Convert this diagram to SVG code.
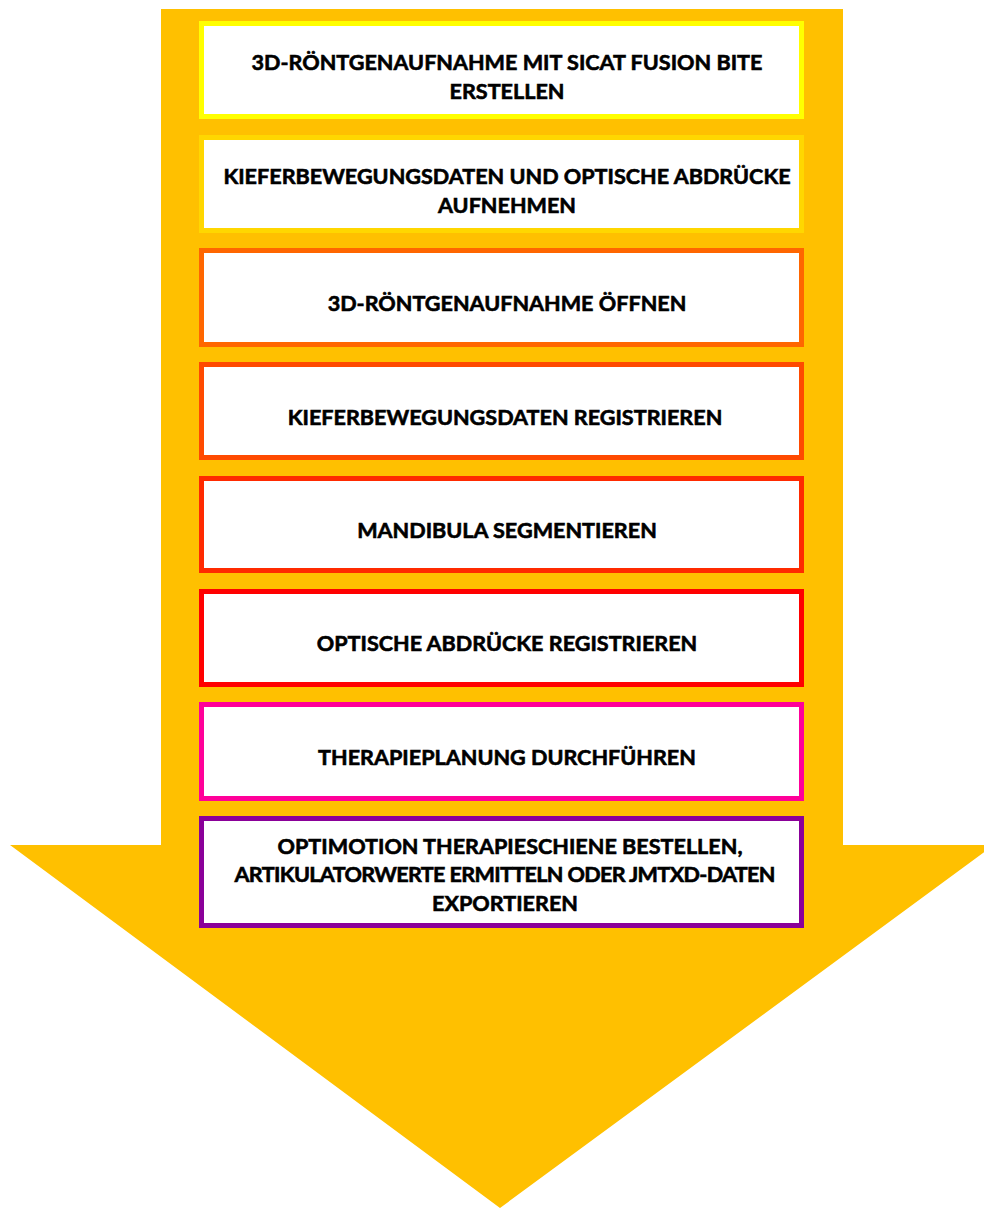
<svg xmlns="http://www.w3.org/2000/svg" width="984" height="1210" viewBox="0 0 984 1210">
<style>
.box{fill:#FFFFFF;stroke-width:5}
.t{font-family:Lato,"Liberation Sans",sans-serif;font-weight:700;font-size:21.6px;fill:#000000;stroke:#000000;stroke-width:0.6;text-anchor:middle}
</style>
<rect width="984" height="1210" fill="#FFFFFF"/>
<g id="arrow">
<path d="M161,9 H843 V845 H994 L500,1208 L10,845 H161 Z" fill="#FFC000"/>
</g>
<g id="connectors"></g>
<g id="step1">
<rect class="box" x="201.5" y="23.5" width="600" height="93" stroke="#FFFF00"/>
<text class="t" x="507" y="70">3D-RÖNTGENAUFNAHME MIT SICAT FUSION BITE</text>
<text class="t" x="507" y="99">ERSTELLEN</text>
</g>
<g id="step2">
<rect class="box" x="201.5" y="137.5" width="600" height="93" stroke="#FFD700"/>
<text class="t" x="507" y="184">KIEFERBEWEGUNGSDATEN UND OPTISCHE ABDRÜCKE</text>
<text class="t" x="507" y="213">AUFNEHMEN</text>
</g>
<g id="step3">
<rect class="box" x="201.5" y="250.5" width="600" height="94" stroke="#FF6600"/>
<text class="t" x="507" y="311">3D-RÖNTGENAUFNAHME ÖFFNEN</text>
</g>
<g id="step4">
<rect class="box" x="201.5" y="364.5" width="600" height="93" stroke="#FF4A00"/>
<text class="t" x="505" y="425">KIEFERBEWEGUNGSDATEN REGISTRIEREN</text>
</g>
<g id="step5">
<rect class="box" x="201.5" y="478.5" width="600" height="92" stroke="#FF2A00"/>
<text class="t" x="507" y="538">MANDIBULA SEGMENTIEREN</text>
</g>
<g id="step6">
<rect class="box" x="201.5" y="591.5" width="600" height="93" stroke="#FF0000"/>
<text class="t" x="507" y="651">OPTISCHE ABDRÜCKE REGISTRIEREN</text>
</g>
<g id="step7">
<rect class="box" x="201.5" y="704.5" width="600" height="94" stroke="#FF0099"/>
<text class="t" x="507" y="765">THERAPIEPLANUNG DURCHFÜHREN</text>
</g>
<g id="step8">
<rect class="box" x="201.5" y="818.5" width="600" height="107" stroke="#8A0099"/>
<text class="t" x="510" y="854">OPTIMOTION THERAPIESCHIENE BESTELLEN,</text>
<text class="t" x="505" y="882" textLength="541">ARTIKULATORWERTE ERMITTELN ODER JMTXD-DATEN</text>
<text class="t" x="505" y="911">EXPORTIEREN</text>
</g>
</svg>
